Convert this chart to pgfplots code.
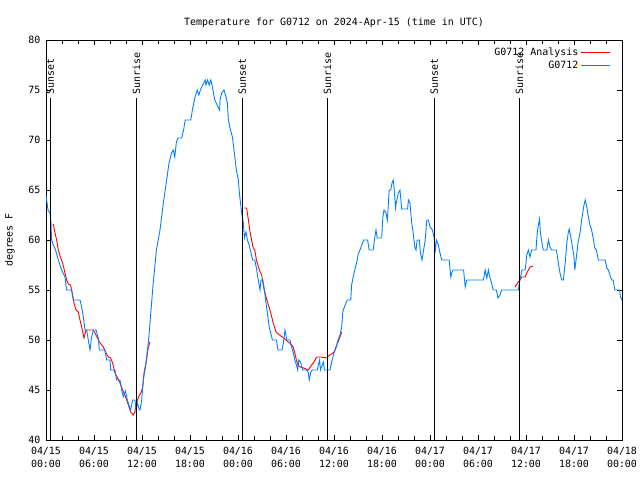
\documentclass[border=0pt]{standalone}
\usepackage{pgfplots}
\pgfplotsset{compat=1.18}
\usepackage{fontspec}
\setmainfont{DejaVu Sans Mono}
\definecolor{obsblue}{RGB}{0,128,255}
\definecolor{anared}{RGB}{255,0,0}
\begin{document}
\fontsize{10}{12}\selectfont
\begin{tikzpicture}
\begin{axis}[
 scale only axis, width=576bp, height=400bp,
 xmin=0, xmax=72, ymin=40, ymax=80,
 xtick={0,6,...,72},
 xticklabels={{04/15\\00:00},{04/15\\06:00},{04/15\\12:00},{04/15\\18:00},{04/16\\00:00},{04/16\\06:00},{04/16\\12:00},{04/16\\18:00},{04/17\\00:00},{04/17\\06:00},{04/17\\12:00},{04/17\\18:00},{04/18\\00:00}},
 minor x tick num=2,
 ytick={40,45,...,80},
 tick align=inside, tick pos=both,
 major tick length=5bp, minor tick length=4bp,
 tick style={black, line width=0.6pt},
 axis line style={line width=0.8pt},
 xticklabel style={align=center, font=\fontsize{10}{12.5}\selectfont, yshift=-4bp},
 yticklabel style={/pgf/number format/assume math mode=true, xshift=-2bp},
 title={Temperature for G0712 on 2024-Apr-15 (time in UTC)},
 title style={yshift=3bp},
 ylabel={degrees F},
 ylabel style={at={(axis description cs:-0.0625,0.5)}, anchor=center},
 legend style={draw=none, fill=none, at={(0.985,0.99)}, anchor=north east, row sep=0bp, font=\fontsize{10}{12}\selectfont},
 legend cell align=right,
 legend plot pos=right,
 legend image code/.code={\draw[#1] plot coordinates {(2bp,0bp) (31bp,0bp)};},
]
% Analysis (red)
\addplot[anared, line width=0.9pt] coordinates {
(0.92,61.6) (1.125,60.7) (1.33,60) (1.54,59) (1.83,58.2) (2.08,57.7) (2.375,56.7) (2.58,56) (2.79,55.6) (3.08,55.5) (3.33,54.5) (3.5,53.7) (3.75,53) (4.04,52.8) (4.25,52) (4.46,51.3) (4.75,50.2) (5.0,51) (5.92,51) (6.25,50.5) (6.67,49.8) (6.96,49.5) (7.17,49.3) (7.5,48.7) (7.79,48.3) (8.08,48.2) (8.33,47.7) (8.625,46.7) (8.9,46.3) (9.25,45.7) (9.58,45) (10.0,44.2) (10.3,43.5) (10.58,42.8) (10.9,42.5) (11.1,42.8) (11.3,43.7) (11.67,44.5) (11.875,44.7) (12.08,45.3) (12.25,46.7) (12.5,47.7) (12.79,49.3) (13.0,49.8)
};
\addplot[anared, line width=0.9pt, forget plot] coordinates {
(24.75,63.2) (25.08,63.2) (25.3,62) (25.5,60.8) (25.7,60) (25.9,59.2) (26.1,59) (26.3,58) (26.67,57) (26.96,56.5) (27.2,55.3) (27.5,54.3) (27.8,53.5) (28.1,52.7) (28.4,51.7) (28.75,50.8) (29.2,50.5) (29.7,50.2) (30.3,49.8) (30.7,49.5) (30.9,49.3) (31.1,48.7) (31.3,48) (31.5,47.5) (31.75,47.3) (32.2,47.2) (32.8,47) (33.2,47.5) (33.5,47.8) (33.75,48.2) (33.9,48.3) (34.3,48.3) (35.0,48.2) (35.3,48.4) (35.7,48.6) (36.0,48.8) (36.25,49.3) (36.5,49.8) (36.75,50.3) (36.96,50.8)
};
\addplot[anared, line width=0.9pt, forget plot] coordinates {
(58.6,55.3) (58.8,55.5) (59.04,55.8) (59.25,56) (59.46,56.3) (59.9,56.3) (60.1,56.7) (60.3,57) (60.5,57.3) (60.9,57.4)
};
% Observations (blue)
\addplot[obsblue, line width=0.9pt] coordinates {
(0,64.5) (0.25,63) (0.5,62.7) (0.625,61.7) (0.7,60) (0.92,59.5) (1.2,59) (1.54,58) (1.96,57) (2.375,56.3) (2.58,55) (3.2,55) (3.42,54) (4.25,54) (4.46,53.3) (4.67,52.3) (4.875,51) (5.08,51) (5.5,49) (5.7,50.3) (5.92,51) (6.25,51) (6.54,50.2) (6.67,49) (7.375,49) (7.58,48) (8.0,48) (8.08,47) (8.625,47) (8.83,46) (9.25,46) (9.46,45) (9.67,44.3) (9.92,44.9) (10.17,44) (10.42,43.3) (10.58,43) (10.83,44) (11.125,44) (11.25,43) (11.42,43.7) (11.67,43) (11.75,43) (11.96,44) (12.17,46) (12.5,47.7) (12.79,49.7) (13.0,51.7) (13.2,53.7) (13.4,55.7) (13.6,57.3) (13.8,59) (14.25,61) (14.67,63.7) (15.08,66) (15.375,67.7) (15.7,68.7) (15.9,69) (16.1,68.3) (16.3,69.8) (16.5,70.2) (16.96,70.2) (17.2,71) (17.4,72) (18.1,72) (18.3,73) (18.6,74.2) (18.9,75) (19.1,74.5) (19.3,75) (19.7,75.7) (19.9,76) (20.0,75.5) (20.2,76) (20.4,75.5) (20.6,76) (20.8,75.3) (21.1,74) (21.7,73) (21.75,74) (21.96,74.7) (22.25,75) (22.5,74.3) (22.67,73.7) (22.8,72) (23.0,71.2) (23.3,70.3) (23.5,69) (23.8,67) (24.04,66) (24.2,64.5) (24.46,62.7) (24.67,61.7) (24.8,60.2) (25.0,60.8) (25.17,60) (25.4,59.5) (25.6,58.8) (25.83,58) (26.1,58) (26.3,57.2) (26.5,56.2) (26.75,55) (26.875,56) (27.1,56) (27.25,55.3) (27.5,53.7) (27.67,52.7) (27.9,51.3) (28.1,50.7) (28.3,50) (28.8,50) (29.0,49) (29.5,49) (29.67,49.7) (29.875,51) (30.1,50) (30.5,50) (30.7,49.3) (30.9,48.8) (31.1,48) (31.3,47.5) (31.46,47) (31.6,48) (31.8,47.8) (32.1,47) (32.6,47) (32.8,46.7) (32.9,46) (33.1,46.8) (33.3,47) (33.9,47) (34.2,48) (34.3,47) (34.67,47.8) (34.8,47) (35.5,47) (35.7,47.8) (36.0,48.7) (36.25,49.2) (36.5,50) (36.75,50.5) (36.96,51.3) (37.1,52.8) (37.25,53.2) (37.5,53.7) (37.67,54) (38.1,54) (38.2,55.5) (38.4,56.3) (38.6,57) (38.9,58) (39.0,58.5) (39.25,59) (39.7,60) (40.2,60) (40.4,59) (40.9,59) (41.1,60.3) (41.25,61) (41.4,60.2) (41.96,60.2) (42.1,62.2) (42.25,63) (42.5,62.7) (42.67,62) (42.9,65) (43.1,65) (43.25,65.7) (43.4,66) (43.5,65.3) (43.7,63.2) (43.8,63.8) (44.04,64.7) (44.25,65) (44.46,63.1) (45.2,63.1) (45.3,64) (45.5,63.7) (45.7,61.8) (45.9,60.7) (46.1,59.3) (46.25,59) (46.4,60) (46.67,60) (46.8,58.7) (47.0,58) (47.2,59) (47.4,60) (47.6,62) (47.8,62) (48.0,61.3) (48.3,61) (48.5,60.3) (48.67,59) (48.8,60) (49.04,59.5) (49.25,58.7) (49.46,58) (50.4,58) (50.6,56.3) (50.75,56.8) (50.9,57) (52.2,57) (52.4,55.3) (52.6,56) (54.67,56) (54.9,57) (55.1,56.2) (55.3,57) (55.5,56.2) (55.7,55.7) (55.9,55) (56.3,55) (56.5,54.2) (56.75,54.5) (56.96,55) (59.04,55) (59.25,56) (59.5,57) (59.9,57) (60.1,58.5) (60.3,59) (60.5,58.3) (60.7,59) (61.25,59) (61.4,60.7) (61.5,61.3) (61.7,62.1) (61.8,60.7) (62.1,59.2) (62.2,59) (62.6,59) (62.8,60) (63.0,59.3) (63.2,59) (63.8,59) (64.04,57.7) (64.25,56.7) (64.46,56) (64.67,56) (64.9,57.7) (65.1,59.7) (65.3,60.8) (65.4,61.1) (65.6,60.3) (65.8,59.3) (66.0,58.3) (66.1,57) (66.3,58.3) (66.5,59.7) (66.75,60.7) (66.96,62) (67.2,63.3) (67.4,64) (67.6,63.3) (67.8,62.3) (68.0,61.5) (68.2,61) (68.4,60.2) (68.6,59.2) (68.8,59) (69.04,58) (69.9,58) (70.1,57.2) (70.3,57) (70.5,56.5) (70.7,56) (70.9,56) (71.1,55) (71.7,55) (71.8,54.3) (72,54)
};
\legend{G0712 Analysis, G0712}
% Sunrise / sunset lines
\addplot[black, line width=0.8pt, forget plot] coordinates {(0.54,40) (0.54,74.2)};
\addplot[black, line width=0.8pt, forget plot] coordinates {(11.29,40) (11.29,74.2)};
\addplot[black, line width=0.8pt, forget plot] coordinates {(24.54,40) (24.54,74.2)};
\addplot[black, line width=0.8pt, forget plot] coordinates {(35.17,40) (35.17,74.2)};
\addplot[black, line width=0.8pt, forget plot] coordinates {(48.54,40) (48.54,74.2)};
\addplot[black, line width=0.8pt, forget plot] coordinates {(59.17,40) (59.17,74.2)};
\node[rotate=90, anchor=west, inner sep=1bp] at (axis cs:0.54,74.4) {Sunset};
\node[rotate=90, anchor=west, inner sep=1bp] at (axis cs:11.29,74.4) {Sunrise};
\node[rotate=90, anchor=west, inner sep=1bp] at (axis cs:24.54,74.4) {Sunset};
\node[rotate=90, anchor=west, inner sep=1bp] at (axis cs:35.17,74.4) {Sunrise};
\node[rotate=90, anchor=west, inner sep=1bp] at (axis cs:48.54,74.4) {Sunset};
\node[rotate=90, anchor=west, inner sep=1bp] at (axis cs:59.17,74.4) {Sunrise};
\end{axis}
\pgfresetboundingbox
\path ([shift={(-46bp,-40bp)}]current axis.south west) rectangle ([shift={(18bp,40bp)}]current axis.north east);
\end{tikzpicture}
\end{document}
